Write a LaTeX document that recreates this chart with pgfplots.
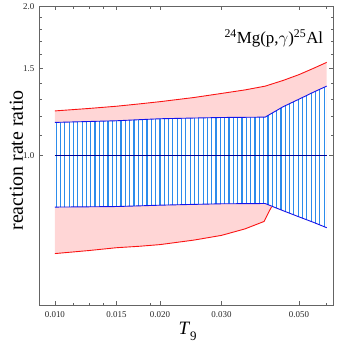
\documentclass[border=0pt]{standalone}
\usepackage{fontspec}
\setmainfont{Liberation Serif}
\usepackage{pgfplots}
\pgfplotsset{compat=1.18}
\usepgfplotslibrary{fillbetween}
\usetikzlibrary{patterns.meta}
\definecolor{pinkfill}{RGB}{255,214,214}
\definecolor{redline}{RGB}{250,20,20}
\definecolor{blueline}{RGB}{20,20,235}
\definecolor{hatch}{RGB}{45,140,235}
\definecolor{midline}{RGB}{0,0,150}
\definecolor{axgray}{RGB}{100,100,100}
\begin{document}
\begin{tikzpicture}
\begin{axis}[
  at={(39.5bp,38bp)}, anchor=south west,
  scale only axis, width=294.5bp, height=299.3bp,
  xmode=log, ymode=log,
  xmin=0.00903, xmax=0.0627, ymin=0.5, ymax=2,
  xtick={0.01,0.015,0.02,0.03,0.05},
  xticklabels={0.010,0.015,0.020,0.030,0.050},
  minor xtick={0.01125,0.0125,0.01375,0.01875,0.06},
  ytick={1,1.5,2}, yticklabels={1.0,1.5,2.0},
  minor ytick={1.1,1.2,1.3,1.4,1.6,1.7,1.8,1.9},
  tick align=inside,
  major tick length=4bp, minor tick length=2.5bp,
  axis line style={axgray, line width=0.6bp},
  every tick/.style={axgray, line width=0.5bp},
  tick label style={font=\fontsize{9}{10}\selectfont, text=black!85},
  yticklabel style={xshift=-1.5bp},
  xticklabel style={yshift=-2.5bp},
  xlabel={\fontsize{19}{22}\selectfont\textit{T}\raisebox{-0.3em}{\fontsize{13}{14}\selectfont 9}},
  xlabel style={at={(axis description cs:0.504,-0.058)}, anchor=north, inner sep=0pt},
  ylabel={\fontsize{20}{24}\selectfont reaction rate ratio},
  ylabel style={at={(axis description cs:-0.056,0.484)}, anchor=base, inner sep=0pt},
]
\addplot[draw=none, name path=RU] coordinates {(0.010,1.231)(0.0125,1.245)(0.015,1.258)(0.0175,1.272)(0.020,1.285)(0.025,1.310)(0.030,1.335)(0.035,1.357)(0.040,1.381)(0.045,1.418)(0.050,1.457)(0.055,1.50)(0.060,1.542)};
\addplot[draw=none, name path=RL] coordinates {(0.010,0.635)(0.0125,0.644)(0.015,0.6525)(0.0175,0.657)(0.020,0.662)(0.025,0.676)(0.030,0.691)(0.035,0.712)(0.0397,0.737)(0.0417,0.789)(0.050,0.753)(0.060,0.716)};
\addplot[draw=none, name path=BU] coordinates {(0.010,1.167)(0.0125,1.172)(0.015,1.176)(0.0175,1.182)(0.020,1.187)(0.025,1.191)(0.030,1.194)(0.035,1.195)(0.040,1.196)(0.045,1.255)(0.050,1.30)(0.055,1.343)(0.060,1.381)};
\addplot[draw=none, name path=BL] coordinates {(0.010,0.788)(0.0125,0.789)(0.015,0.790)(0.0175,0.7925)(0.020,0.795)(0.025,0.798)(0.030,0.800)(0.035,0.8005)(0.040,0.801)(0.045,0.775)(0.050,0.753)(0.055,0.734)(0.060,0.716)};
\addplot[pinkfill] fill between[of=RU and RL];
\addplot[white] fill between[of=BU and BL];
\addplot[pattern={Lines[angle=90,distance=4.33bp,line width=1.2bp]}, pattern color=hatch] fill between[of=BU and BL];
\addplot[midline, line width=0.8bp] coordinates {(0.010,1)(0.060,1)};
\addplot[blueline, line width=0.9bp] coordinates {(0.010,1.167)(0.0125,1.172)(0.015,1.176)(0.0175,1.182)(0.020,1.187)(0.025,1.191)(0.030,1.194)(0.035,1.195)(0.040,1.196)(0.045,1.255)(0.050,1.30)(0.055,1.343)(0.060,1.381)};
\addplot[blueline, line width=0.9bp] coordinates {(0.010,0.788)(0.0125,0.789)(0.015,0.790)(0.0175,0.7925)(0.020,0.795)(0.025,0.798)(0.030,0.800)(0.035,0.8005)(0.040,0.801)(0.045,0.775)(0.050,0.753)(0.055,0.734)(0.060,0.716)};
\addplot[redline, line width=0.9bp] coordinates {(0.010,1.231)(0.0125,1.245)(0.015,1.258)(0.0175,1.272)(0.020,1.285)(0.025,1.310)(0.030,1.335)(0.035,1.357)(0.040,1.381)(0.045,1.418)(0.050,1.457)(0.055,1.50)(0.060,1.542)};
\addplot[redline, line width=0.9bp] coordinates {(0.010,0.635)(0.0125,0.644)(0.015,0.6525)(0.0175,0.657)(0.020,0.662)(0.025,0.676)(0.030,0.691)(0.035,0.712)(0.0397,0.737)(0.0417,0.789)};
\node[anchor=base east, inner sep=0pt, font=\fontsize{17}{20}\selectfont] at (rel axis cs:0.966,0.874) {\textsuperscript{24}Mg(p,$\gamma$)\textsuperscript{25}Al};
\end{axis}
\path (0,0) rectangle (341bp,343bp);
\end{tikzpicture}
\end{document}
